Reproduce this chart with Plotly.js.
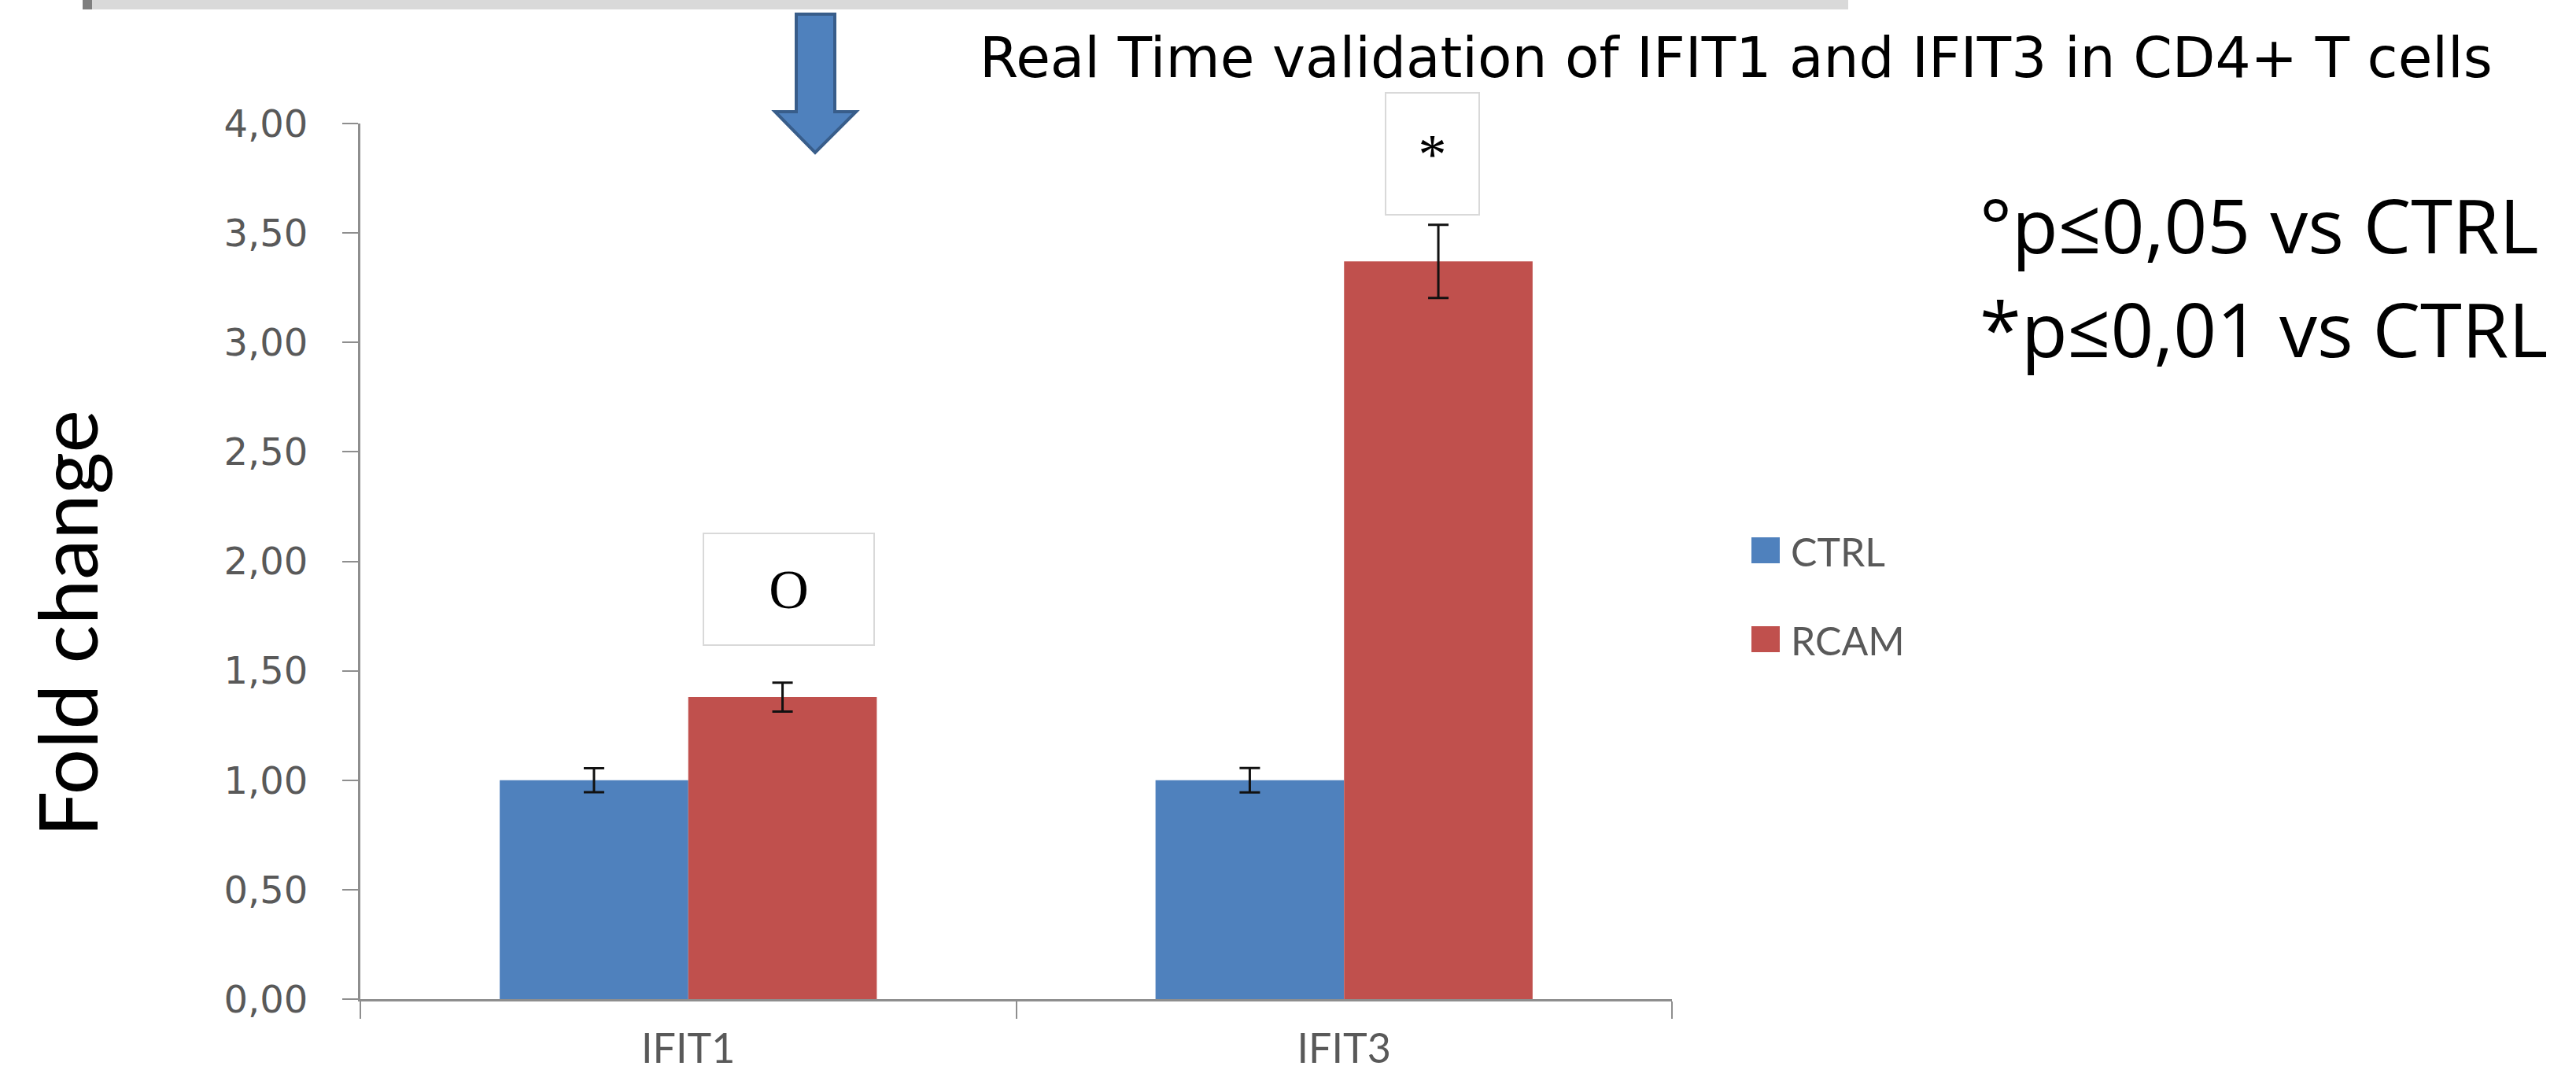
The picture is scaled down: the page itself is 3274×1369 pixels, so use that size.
<!DOCTYPE html>
<html>
<head>
<meta charset="utf-8">
<script src="https://cdn.plot.ly/plotly-3.0.1.min.js"></script>
<style>html,body{margin:0;padding:0;background:#fff;}#chart{width:3274px;height:1369px;}</style>
</head>
<body>
<div id="chart"></div>
<script>
// ---- data ----
const categories = ["IFIT1", "IFIT3"];
const seriesNames = ["CTRL", "RCAM"];
const ctrlValues = [1.00, 1.00];
const ctrlErrors = [0.055, 0.056];
const rcamValues = [1.38, 3.37];
const rcamErrors = [0.066, 0.167];
const yTickValues = [0, 0.5, 1, 1.5, 2, 2.5, 3, 3.5, 4];
const chartTitle = "Real Time validation of IFIT1 and IFIT3 in CD4+ T cells";
const yTitle = "Fold change";
const sigMarks = ["O", "*"];
const pNotes = ["°p≤0,05 vs CTRL", "*p≤0,01 vs CTRL"];

// ---- layout geometry (pixels) ----
const W = 3274, H = 1369;
const L = 458, R = 2125, T = 157, B = 1270;
const X = px => (px - L) / (R - L);
const Y = py => (B - py) / (B - T);

const colors = ["#4f81bd", "#c0504d"];
const axisGray = "#8e8e8e";
const textGray = "#595959";

const traces = [
  {
    type: "bar", name: seriesNames[0], x: categories, y: ctrlValues,
    marker: {color: colors[0], line: {width: 0}},
    error_y: {type: "data", array: ctrlErrors, visible: true, color: "#111", thickness: 3, width: 13},
    hoverinfo: "none"
  },
  {
    type: "bar", name: seriesNames[1], x: categories, y: rcamValues,
    marker: {color: colors[1], line: {width: 0}},
    error_y: {type: "data", array: rcamErrors, visible: true, color: "#111", thickness: 3, width: 13},
    hoverinfo: "none"
  }
];

const shapes = [
  // top grey band
  {type: "rect", xref: "paper", yref: "paper", x0: X(105), x1: X(2349), y0: Y(0), y1: Y(12),
   fillcolor: "#d9d9d9", line: {width: 0}, layer: "above"},
  {type: "rect", xref: "paper", yref: "paper", x0: X(105), x1: X(117), y0: Y(0), y1: Y(12),
   fillcolor: "#7f7f7f", line: {width: 0}, layer: "above"},
  // down arrow
  {type: "path", xref: "paper", yref: "paper",
   path: "M" + X(1012) + "," + Y(18) + " L" + X(1061) + "," + Y(18) + " L" + X(1061) + "," + Y(142) +
         " L" + X(1088) + "," + Y(142) + " L" + X(1036) + "," + Y(194) + " L" + X(985) + "," + Y(142) +
         " L" + X(1012) + "," + Y(142) + " Z",
   fillcolor: "#4f81bd", line: {color: "#385d8a", width: 4}, layer: "above"},
  // legend squares
  {type: "rect", xref: "paper", yref: "paper", x0: X(2226), x1: X(2262), y0: Y(683), y1: Y(716),
   fillcolor: colors[0], line: {width: 0}},
  {type: "rect", xref: "paper", yref: "paper", x0: X(2226), x1: X(2262), y0: Y(796), y1: Y(829),
   fillcolor: colors[1], line: {width: 0}}
];

const annotations = [
  {text: chartTitle, xref: "paper", yref: "paper", x: X(2206), y: Y(74), xanchor: "center", yanchor: "middle",
   showarrow: false, font: {family: "DejaVu Sans, sans-serif", size: 71, color: "#000"}},
  {text: yTitle, xref: "paper", yref: "paper", x: X(84), y: Y(793), xanchor: "center", yanchor: "middle",
   textangle: -90, showarrow: false, font: {family: "Lato, sans-serif", size: 103, color: "#000"}},
  {text: sigMarks[0], xref: "paper", yref: "paper", x: X(1002), y: Y(749), xanchor: "center", yanchor: "middle",
   width: 215, height: 140, borderpad: 0, bgcolor: "#fff", bordercolor: "#d9d9d9", borderwidth: 2,
   showarrow: false, font: {family: "Liberation Serif, serif", size: 70, color: "#000"}},
  {text: sigMarks[1], xref: "paper", yref: "paper", x: X(1820), y: Y(196), xanchor: "center", yanchor: "middle",
   width: 117, height: 153, borderpad: 0, bgcolor: "#fff", bordercolor: "#d9d9d9", borderwidth: 2,
   showarrow: false, font: {family: "Liberation Serif, serif", size: 72, color: "#000"}},
  {text: pNotes[0], xref: "paper", yref: "paper", x: X(2514), y: Y(284), xanchor: "left", yanchor: "middle",
   showarrow: false, font: {family: "Open Sans, sans-serif", size: 96, color: "#000"}},
  {text: pNotes[1], xref: "paper", yref: "paper", x: X(2514), y: Y(417), xanchor: "left", yanchor: "middle",
   showarrow: false, font: {family: "Open Sans, sans-serif", size: 96, color: "#000"}},
  {text: seriesNames[0], xref: "paper", yref: "paper", x: X(2274), y: Y(701), xanchor: "left", yanchor: "middle",
   showarrow: false, font: {family: "Lato, sans-serif", size: 50, color: textGray}},
  {text: seriesNames[1], xref: "paper", yref: "paper", x: X(2274), y: Y(814), xanchor: "left", yanchor: "middle",
   showarrow: false, font: {family: "Lato, sans-serif", size: 50, color: textGray}}
];

const layout = {
  width: W, height: H,
  margin: {l: L, r: W - R, t: T, b: H - B, pad: 0},
  paper_bgcolor: "#fff", plot_bgcolor: "#fff",
  showlegend: false,
  barmode: "group", bargap: 0.425, bargroupgap: 0,
  separators: ", ",
  xaxis: {
    type: "category", range: [-0.5, 1.5], showgrid: false, zeroline: false,
    showline: true, linecolor: axisGray, linewidth: 3,
    ticks: "outside", tickson: "boundaries", ticklen: 22, tickwidth: 2, tickcolor: axisGray,
    tickfont: {family: "Lato, sans-serif", size: 52, color: textGray},
    ticklabelstandoff: 16, fixedrange: true
  },
  yaxis: {
    range: [0, 4], tickvals: yTickValues, tickformat: ".2f", showgrid: false, zeroline: false,
    showline: true, linecolor: axisGray, linewidth: 3,
    ticks: "outside", ticklen: 20, tickwidth: 2, tickcolor: axisGray,
    tickfont: {family: "DejaVu Sans, sans-serif", size: 48, color: textGray},
    ticklabelstandoff: 34, fixedrange: true
  },
  shapes: shapes,
  annotations: annotations
};

Plotly.newPlot("chart", traces, layout, {staticPlot: true, displayModeBar: false});
</script>
</body>
</html>
